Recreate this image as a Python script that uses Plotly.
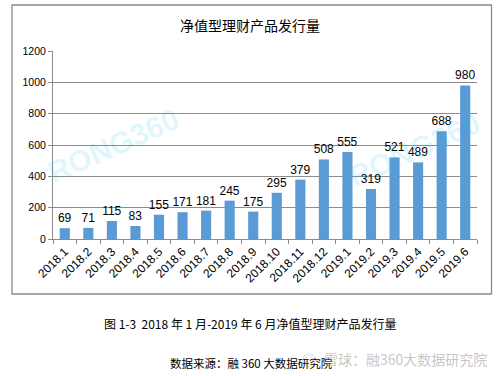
import plotly.graph_objects as go

categories = ["2018.1", "2018.2", "2018.3", "2018.4", "2018.5", "2018.6", "2018.7", "2018.8", "2018.9",
              "2018.10", "2018.11", "2018.12", "2019.1", "2019.2", "2019.3", "2019.4", "2019.5", "2019.6"]
issuance = [69, 71, 115, 83, 155, 171, 181, 245, 175, 295, 379, 508, 555, 319, 521, 489, 688, 980]
y_ticks = [0, 200, 400, 600, 800, 1000, 1200]

W, H = 501, 376
L, R, T, B = 53, 477, 51, 239

def px(x):
    return (x - L) / (R - L)

def py(y):
    return (B - y) / (B - T)

CJK = "Noto Sans CJK SC"
NUM = "Liberation Sans"
BAR = "#5B9BD5"
GRID = "#8c8c8c"

fig = go.Figure()
fig.add_trace(go.Bar(
    x=categories, y=issuance, marker=dict(color=BAR, line=dict(width=0)),
    text=[str(v) for v in issuance], textposition="outside", cliponaxis=False,
    constraintext="none",
    textfont=dict(family=NUM, size=12, color="#000000"), hoverinfo="skip",
))

WM = "rgba(150,150,150,0.55)"
annotations = [
    dict(text="净值型理财产品发行量", x=px(250), y=py(25), font=dict(family=CJK, size=14, color="#000")),
    dict(text="图 1-3  2018 年 1 月-2019 年 6 月净值型理财产品发行量", x=px(250), y=py(323),
         font=dict(family=CJK, size=12, color="#000")),
    dict(text="数据来源：融 360 大数据研究院", x=px(251), y=py(363), font=dict(family=CJK, size=11.5, color="#000")),
    dict(text="◎", x=px(309), y=py(359), font=dict(family=CJK, size=14, color=WM)),
    dict(text="雪球：融360大数据研究院", x=px(405), y=py(359), font=dict(family=CJK, size=14, color=WM)),
    dict(text="<b>RONG360</b>", x=px(113), y=py(145), textangle=-24,
         font=dict(family=NUM, size=30, color="rgba(0,190,245,0.12)")),
    dict(text="<b>RONG360</b>", x=px(414), y=py(149), textangle=-24,
         font=dict(family=NUM, size=30, color="rgba(0,190,245,0.12)")),
]
for a in annotations:
    a.update(xref="paper", yref="paper", showarrow=False, xanchor="center", yanchor="middle")

fig.update_layout(
    width=W, height=H,
    margin=dict(l=L, r=W - R, t=T, b=H - B, pad=0, autoexpand=False),
    paper_bgcolor="white", plot_bgcolor="white",
    showlegend=False, bargap=0.57,
    annotations=annotations,
    shapes=[dict(type="rect", xref="paper", yref="paper",
                 x0=px(12), x1=px(491.5), y0=py(294), y1=py(5),
                 line=dict(color="#8a8a8a", width=1.3), layer="below")],
    xaxis=dict(
        type="category", tickangle=-45, tickson="boundaries", ticks="outside", ticklen=4,
        tickcolor=GRID, showline=True, linecolor=GRID, linewidth=1, showgrid=False,
        automargin=False, tickfont=dict(family=NUM, size=12, color="#000"),
    ),
    yaxis=dict(
        range=[0, 1200], tickvals=y_ticks, ticks="outside", ticklen=4, tickcolor=GRID,
        showline=True, linecolor=GRID, linewidth=1, showgrid=True, gridcolor=GRID, gridwidth=1,
        automargin=False, zeroline=False, tickfont=dict(family=NUM, size=10.5, color="#000"),
    ),
)

fig.write_html("out.html", config={"displayModeBar": False},
               post_script="document.body.style.margin='0';document.body.style.overflow='hidden';")
